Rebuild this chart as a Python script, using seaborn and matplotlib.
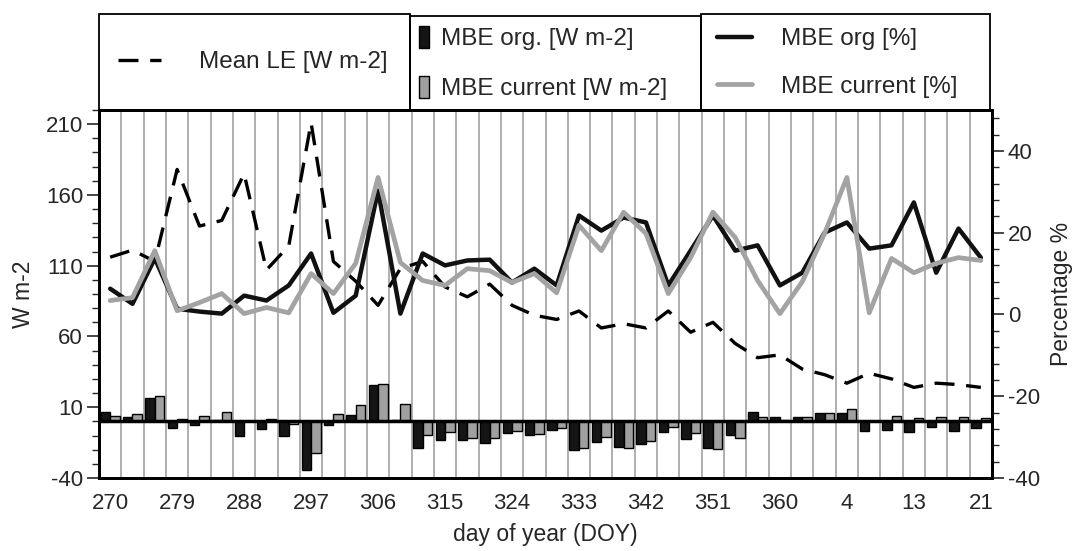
import numpy as np
import pandas as pd
import seaborn as sns
import matplotlib.pyplot as plt
from matplotlib.lines import Line2D
from matplotlib.patches import Patch, Rectangle
from matplotlib.ticker import MultipleLocator

# day of year, one category every 3 days (Sep -> Jan)
days = [270, 273, 276, 279, 282, 285, 288, 291, 294, 297, 300, 303, 306, 309,
        312, 315, 318, 321, 324, 327, 330, 333, 336, 339, 342, 345, 348, 351,
        354, 357, 360, 363, 1, 4, 7, 10, 13, 16, 19, 21]

# left axis [W m-2]
mean_le = [116, 121, 113, 178, 138, 142, 175, 107, 124, 211, 113, 99, 82, 108,
           113, 95, 88, 97, 82, 75, 72, 78, 66, 69, 66, 78, 63, 70, 55, 45,
           47, 37, 33, 27, 34, 30, 24, 27, 26, 24]
mbe_org_wm2 = [6.9, 3.4, 16.4, -4.8, -2.5, 1.0, -10.3, -5.3, -10.0, -34.3,
               -2.5, 4.6, 25.8, 0.7, -19.0, -13.1, -13.1, -15.0, -7.9, -9.8,
               -6.0, -20.2, -14.8, -17.8, -15.9, -7.2, -12.4, -19.0, -9.6, 6.9,
               3.0, 3.4, 6.2, 5.8, -6.5, -6.0, -7.2, -3.7, -6.5, -4.8]
mbe_cur_wm2 = [3.9, 5.1, 17.6, 1.8, 3.9, 6.9, 0.5, 1.5, -1.8, -22.5,
               5.3, 11.7, 26.5, 12.4, -9.6, -7.2, -11.9, -11.9, -6.5, -8.9,
               -4.4, -19.0, -11.2, -18.5, -13.6, -4.1, -8.4, -19.5, -11.4, 3.0,
               1.0, 3.0, 5.8, 8.6, 0.5, 3.9, 2.3, 3.0, 3.4, 2.3]

# right axis [%]
mbe_org_pct = [6.3, 2.6, 13.7, 1.4, 0.7, 0.2, 4.6, 3.4, 7.1, 14.9,
               0.4, 4.6, 30.3, 0.2, 14.9, 12.0, 13.2, 13.4, 7.8, 11.2,
               7.1, 24.2, 20.5, 23.7, 22.5, 7.1, 15.6, 24.2, 15.6, 16.9,
               7.1, 10.2, 20.0, 22.5, 16.1, 16.9, 27.4, 10.2, 21.0, 13.9]
mbe_cur_pct = [3.4, 4.1, 15.6, 0.9, 2.9, 5.1, 0.2, 1.7, 0.4, 10.0,
               5.1, 12.5, 33.5, 12.7, 8.3, 7.1, 11.2, 10.7, 7.8, 10.0,
               5.3, 21.8, 15.6, 25.0, 19.8, 5.1, 13.9, 25.0, 18.8, 8.3,
               0.2, 8.0, 19.8, 33.5, 0.4, 13.7, 10.2, 12.5, 13.9, 13.2]

sns.set_style('ticks')
plt.rcParams['font.family'] = ['Liberation Sans', 'DejaVu Sans']
plt.rcParams['font.size'] = 16
plt.rcParams['axes.unicode_minus'] = False

W, H = 1076, 551
fig = plt.figure(figsize=(W / 100, H / 100), dpi=100)
ax = fig.add_axes([99 / W, 1 - 478 / H, (992 - 99) / W, (478 - 110) / H])
ax2 = ax.twinx()

n = len(days)
idx = np.arange(n)
bars = pd.DataFrame({'pos': np.concatenate([idx, idx]),
                     'val': mbe_org_wm2 + mbe_cur_wm2,
                     'series': ['org'] * n + ['cur'] * n})

# vertical separators between the days
for i in idx[:-1]:
    ax.axvline(i + 0.5, color='#9a9a9a', lw=1.1, zorder=0.5)

sns.barplot(data=bars, x='pos', y='val', hue='series',
            palette={'org': '#151515', 'cur': '#a0a0a0'},
            width=0.85, edgecolor='black', linewidth=1.0,
            legend=False, ax=ax)
ax.axhline(0, color='black', lw=2.5, zorder=3)
sns.lineplot(x=idx, y=mean_le, ax=ax, color='black', lw=2.4,
             linestyle=(0, (6, 3.5)))

sns.lineplot(x=idx, y=mbe_org_pct, ax=ax2, color='#111111', lw=3.2)
sns.lineplot(x=idx, y=mbe_cur_pct, ax=ax2, color='#a3a3a3', lw=3.4)

ax.set_xlim(-0.5, n - 0.5)
ax.set_ylim(-40, 220)
ax.set_yticks([-40, 10, 60, 110, 160, 210])
ax.yaxis.set_minor_locator(MultipleLocator(10))
ax2.set_ylim(-40, 50)
ax2.set_yticks([-40, -20, 0, 20, 40])
ax2.yaxis.set_minor_locator(MultipleLocator(4))

ax.set_xticks(idx[::3])
ax.set_xticklabels([str(d) for d in days[::3]])
ax.tick_params(axis='x', length=0, pad=11, labelsize=16)
ax.tick_params(axis='y', which='major', length=8.5, width=1.2, pad=3, labelsize=16)
ax.tick_params(axis='y', which='minor', length=5, width=1.0)
ax2.tick_params(axis='y', which='major', length=8.5, width=1.2, pad=3, labelsize=16)
ax2.tick_params(axis='y', which='minor', length=5, width=1.0)

ax.set_xlabel('day of year (DOY)', labelpad=6, fontsize=16.5)
ax.set_ylabel('W m-2', labelpad=8, fontsize=16.5)
ax2.set_ylabel('Percentage %', labelpad=7, fontsize=16.5)

for a in (ax, ax2):
    for s in a.spines.values():
        s.set_linewidth(2)
        s.set_color('black')

# legend boxes above the plot
for x0, y0, x1 in [(99, 14, 410), (410, 16, 701), (701, 14, 990)]:
    fig.add_artist(Rectangle((x0 / W, 1 - 110 / H), (x1 - x0) / W, (110 - y0) / H,
                             transform=fig.transFigure, fill=False,
                             edgecolor='black', lw=1.3))

leg_fs = 17.5
fig.legend(handles=[Line2D([], [], color='black', lw=2.4, linestyle=(0, (6, 3.5)))],
           labels=['Mean LE [W m-2]'], loc='center left',
           bbox_to_anchor=(118 / W, 1 - 62 / H), frameon=False, fontsize=leg_fs,
           handlelength=1.75, handletextpad=1.6, borderaxespad=0, borderpad=0)
fig.legend(handles=[Patch(facecolor='#151515', edgecolor='black'),
                    Patch(facecolor='#a0a0a0', edgecolor='black')],
           labels=['MBE org. [W m-2]', 'MBE current [W m-2]'], loc='center left',
           bbox_to_anchor=(419 / W, 1 - 63 / H), frameon=False, fontsize=leg_fs,
           handlelength=0.42, handleheight=1.0, handletextpad=0.5,
           labelspacing=1.05, borderaxespad=0, borderpad=0)
fig.legend(handles=[Line2D([], [], color='#111111', lw=3.2),
                    Line2D([], [], color='#a3a3a3', lw=3.4)],
           labels=['MBE org [%]', 'MBE current [%]'], loc='center left',
           bbox_to_anchor=(717 / W, 1 - 63 / H), frameon=False, fontsize=leg_fs,
           handlelength=1.45, handletextpad=1.2,
           labelspacing=1.05, borderaxespad=0, borderpad=0)

fig.savefig('out.png', dpi=100)
